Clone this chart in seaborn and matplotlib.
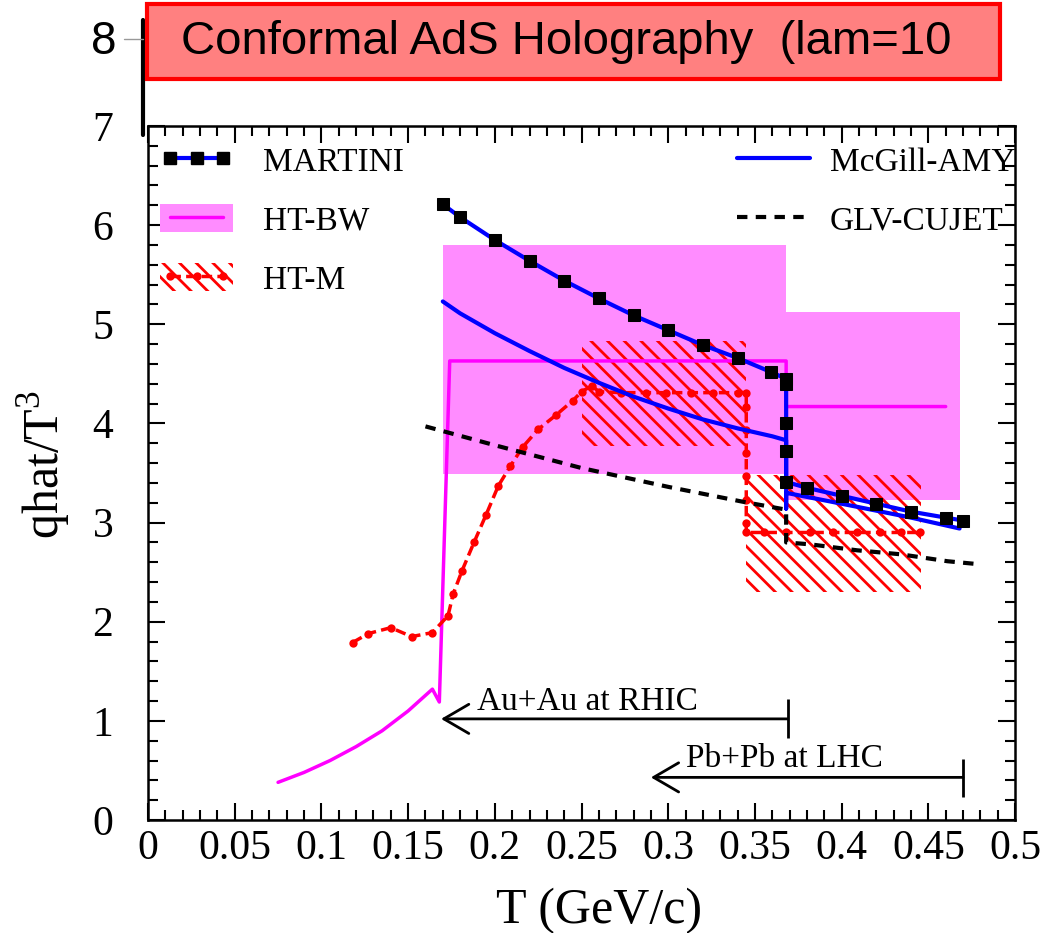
import matplotlib
matplotlib.use("Agg")
import matplotlib.pyplot as plt
from matplotlib.lines import Line2D
from matplotlib.patches import Patch, Rectangle
from matplotlib.ticker import MultipleLocator
import seaborn as sns

# MARTINI (squares on blue line)
martini_T = [0.170, 0.180, 0.200, 0.220, 0.240, 0.260, 0.280, 0.300, 0.320, 0.340,
             0.359, 0.368, 0.368, 0.368, 0.368, 0.368, 0.380, 0.400, 0.420, 0.440,
             0.460, 0.470]
martini_q = [6.21, 6.08, 5.85, 5.64, 5.44, 5.26, 5.09, 4.94, 4.79, 4.66,
             4.52, 4.45, 4.40, 4.00, 3.72, 3.41, 3.35, 3.27, 3.19, 3.11,
             3.05, 3.02]

# McGill-AMY
amy_T = [0.170, 0.180, 0.200, 0.220, 0.240, 0.260, 0.280, 0.300, 0.320, 0.340,
         0.360, 0.368, 0.368, 0.368, 0.400, 0.440, 0.468]
amy_q = [5.23, 5.11, 4.91, 4.73, 4.56, 4.41, 4.27, 4.15, 4.04, 3.95,
         3.87, 3.83, 3.14, 3.30, 3.19, 3.05, 2.94]

# GLV-CUJET
glv_T = [0.160, 0.200, 0.250, 0.300, 0.343, 0.368, 0.368, 0.382, 0.409, 0.434, 0.461, 0.479]
glv_q = [3.97, 3.78, 3.55, 3.36, 3.21, 3.13, 2.80, 2.78, 2.72, 2.68, 2.61, 2.58]

# HT-BW central line and bands
bw_T = [0.075, 0.090, 0.105, 0.120, 0.135, 0.150, 0.164, 0.168, 0.174, 0.368, 0.368, 0.460]
bw_q = [0.38, 0.48, 0.60, 0.74, 0.90, 1.10, 1.32, 1.19, 4.63, 4.63, 4.17, 4.17]
bw_band_T0 = [0.170, 0.368]
bw_band_T1 = [0.368, 0.468]
bw_band_lo = [3.49, 3.23]
bw_band_hi = [5.80, 5.12]

# HT-M central line and bands
htm_T = [0.118, 0.127, 0.140, 0.152, 0.164, 0.173, 0.176, 0.181, 0.188, 0.195,
         0.202, 0.209, 0.216, 0.225, 0.235, 0.245, 0.250, 0.256, 0.260, 0.273,
         0.287, 0.299, 0.313, 0.326, 0.340, 0.345, 0.345, 0.345, 0.345, 0.345,
         0.345, 0.345, 0.345, 0.355, 0.368, 0.382, 0.395, 0.409, 0.422, 0.434, 0.445]
htm_q = [1.79, 1.88, 1.94, 1.85, 1.89, 2.06, 2.28, 2.51, 2.80, 3.08,
         3.37, 3.57, 3.76, 3.94, 4.08, 4.23, 4.32, 4.38, 4.32, 4.31,
         4.31, 4.31, 4.31, 4.31, 4.31, 4.31, 4.17, 3.93, 3.70, 3.47,
         3.23, 3.00, 2.90, 2.90, 2.90, 2.90, 2.90, 2.90, 2.90, 2.90, 2.90]
htm_band_T0 = [0.250, 0.345]
htm_band_T1 = [0.345, 0.446]
htm_band_lo = [3.77, 2.30]
htm_band_hi = [4.83, 3.48]

x_ticks = [0, 0.05, 0.1, 0.15, 0.2, 0.25, 0.3, 0.35, 0.4, 0.45, 0.5]
x_tick_labels = ["0", "0.05", "0.1", "0.15", "0.2", "0.25", "0.3", "0.35", "0.4", "0.45", "0.5"]
y_ticks = [0, 1, 2, 3, 4, 5, 6, 7]

left_names = ["MARTINI", "HT-BW", "HT-M"]
right_names = ["McGill-AMY", "GLV-CUJET"]

BW_FILL = "#ff8cff"
HATCH = "\\\\"

sns.set_theme(style="ticks")
plt.rcParams["font.family"] = ["Liberation Serif", "DejaVu Serif"]
plt.rcParams["hatch.linewidth"] = 2.0
plt.rcParams["text.color"] = "black"
plt.rcParams["axes.labelcolor"] = "black"
plt.rcParams["xtick.color"] = "black"
plt.rcParams["ytick.color"] = "black"

fig = plt.figure(figsize=(10.43, 9.33), dpi=100)
ax = fig.add_axes([0.1419, 0.1211, 0.8313, 0.7439])

# bands
for t0, t1, lo, hi in zip(bw_band_T0, bw_band_T1, bw_band_lo, bw_band_hi):
    ax.fill_between([t0, t1], [lo, lo], [hi, hi], facecolor=BW_FILL, lw=0, zorder=1)
for t0, t1, lo, hi in zip(htm_band_T0, htm_band_T1, htm_band_lo, htm_band_hi):
    ax.fill_between([t0, t1], [lo, lo], [hi, hi], facecolor="none", edgecolor="red",
                    hatch=HATCH, lw=0, zorder=2)

# curves
sns.lineplot(x=bw_T, y=bw_q, estimator=None, sort=False, color="magenta", lw=2.5,
             ax=ax, zorder=3)
sns.lineplot(x=htm_T, y=htm_q, estimator=None, sort=False, color="red", lw=2.5,
             linestyle=(0, (3, 1.5)), marker="o", markersize=6, markeredgewidth=0,
             ax=ax, zorder=4)
sns.lineplot(x=glv_T, y=glv_q, estimator=None, sort=False, color="black", lw=3,
             linestyle=(0, (2.5, 2.0)), ax=ax, zorder=4)
sns.lineplot(x=amy_T, y=amy_q, estimator=None, sort=False, color="blue", lw=3,
             ax=ax, zorder=5)
sns.lineplot(x=martini_T, y=martini_q, estimator=None, sort=False, color="blue", lw=3,
             marker="s", markersize=9, markerfacecolor="black", markeredgecolor="black",
             ax=ax, zorder=6)

# collision system arrows
arrow_kw = dict(arrowstyle="->,head_length=0.6,head_width=0.35", lw=2, color="black",
                mutation_scale=30, shrinkA=0, shrinkB=0)
ax.annotate("", xy=(0.169, 1.02), xytext=(0.369, 1.02), arrowprops=arrow_kw)
ax.vlines(0.369, 0.83, 1.22, color="black", lw=2)
ax.text(0.19, 1.11, "Au+Au at RHIC", fontsize=24, va="baseline")
ax.annotate("", xy=(0.29, 0.43), xytext=(0.47, 0.43), arrowprops=arrow_kw)
ax.vlines(0.47, 0.23, 0.62, color="black", lw=2)
ax.text(0.31, 0.53, "Pb+Pb at LHC", fontsize=24, va="baseline")

# axes styling
ax.set_xlim(0, 0.5)
ax.set_ylim(0, 7)
ax.set_xticks(x_ticks)
ax.set_xticklabels(x_tick_labels)
ax.set_yticks(y_ticks)
ax.xaxis.set_minor_locator(MultipleLocator(0.01))
ax.yaxis.set_minor_locator(MultipleLocator(0.2))
ax.tick_params(which="both", direction="in", top=True, right=True, width=1.5, colors="black")
ax.tick_params(which="major", length=12)
ax.tick_params(which="minor", length=7)
ax.tick_params(axis="y", which="major", pad=25, labelsize=30)
ax.tick_params(axis="x", which="major", pad=7, labelsize=30)
for s in ax.spines.values():
    s.set_linewidth(1.8)
    s.set_color("black")
ax.set_xlabel("T (GeV/c)", fontsize=36, labelpad=14, x=0.52)
ax.set_ylabel("qhat/T$^{\\mathregular{3}}$", fontsize=36, labelpad=14, y=0.513)

# legends
h_martini = Line2D([], [], color="blue", lw=3, marker="s", ms=9, mfc="black", mec="black")
h_bw = (Patch(facecolor=BW_FILL, lw=0), Line2D([], [], color="magenta", lw=2.5))
h_htm = (Patch(facecolor="none", edgecolor="red", hatch=HATCH, lw=0),
         Line2D([], [], color="red", lw=2.5, ls=(0, (3, 1.5)), marker="o", ms=6, mew=0))
leg1 = ax.legend([h_martini, h_bw, h_htm], left_names, loc="upper left",
                 bbox_to_anchor=(0.0138, 0.972), frameon=False, fontsize=24,
                 handlelength=2.2, handleheight=0.9, handletextpad=0.9,
                 labelspacing=0.8, borderpad=0, borderaxespad=0, numpoints=3)
ax.add_artist(leg1)
h_amy = Line2D([], [], color="blue", lw=3)
h_glv = Line2D([], [], color="black", lw=3, ls=(0, (2.5, 2.0)))
ax.legend([h_amy, h_glv], right_names, loc="upper left", bbox_to_anchor=(0.679, 0.972),
          frameon=False, fontsize=24, handlelength=2.2, handleheight=0.9,
          handletextpad=0.6, labelspacing=0.8, borderpad=0, borderaxespad=0)

# stray upper axis piece and title banner
fig.add_artist(Line2D([0.1371, 0.1371], [0.8553, 0.9786], color="black", lw=3))
fig.add_artist(Line2D([0.1189, 0.1371], [0.9582, 0.9582], color="#999999", lw=1))
fig.text(0.0997, 0.955, "8", family="Liberation Sans", fontsize=33, ha="center", va="center")
fig.patches.append(Rectangle((0.141, 0.9153), 0.818, 0.0804, transform=fig.transFigure,
                             facecolor="#ff8080", edgecolor="#ff0000", lw=3, zorder=5))
fig.text(0.1735, 0.955, "Conformal AdS Holography  (lam=10", family="Liberation Sans",
         fontsize=34, ha="left", va="center", zorder=6)

fig.savefig("out.png", dpi=100)
